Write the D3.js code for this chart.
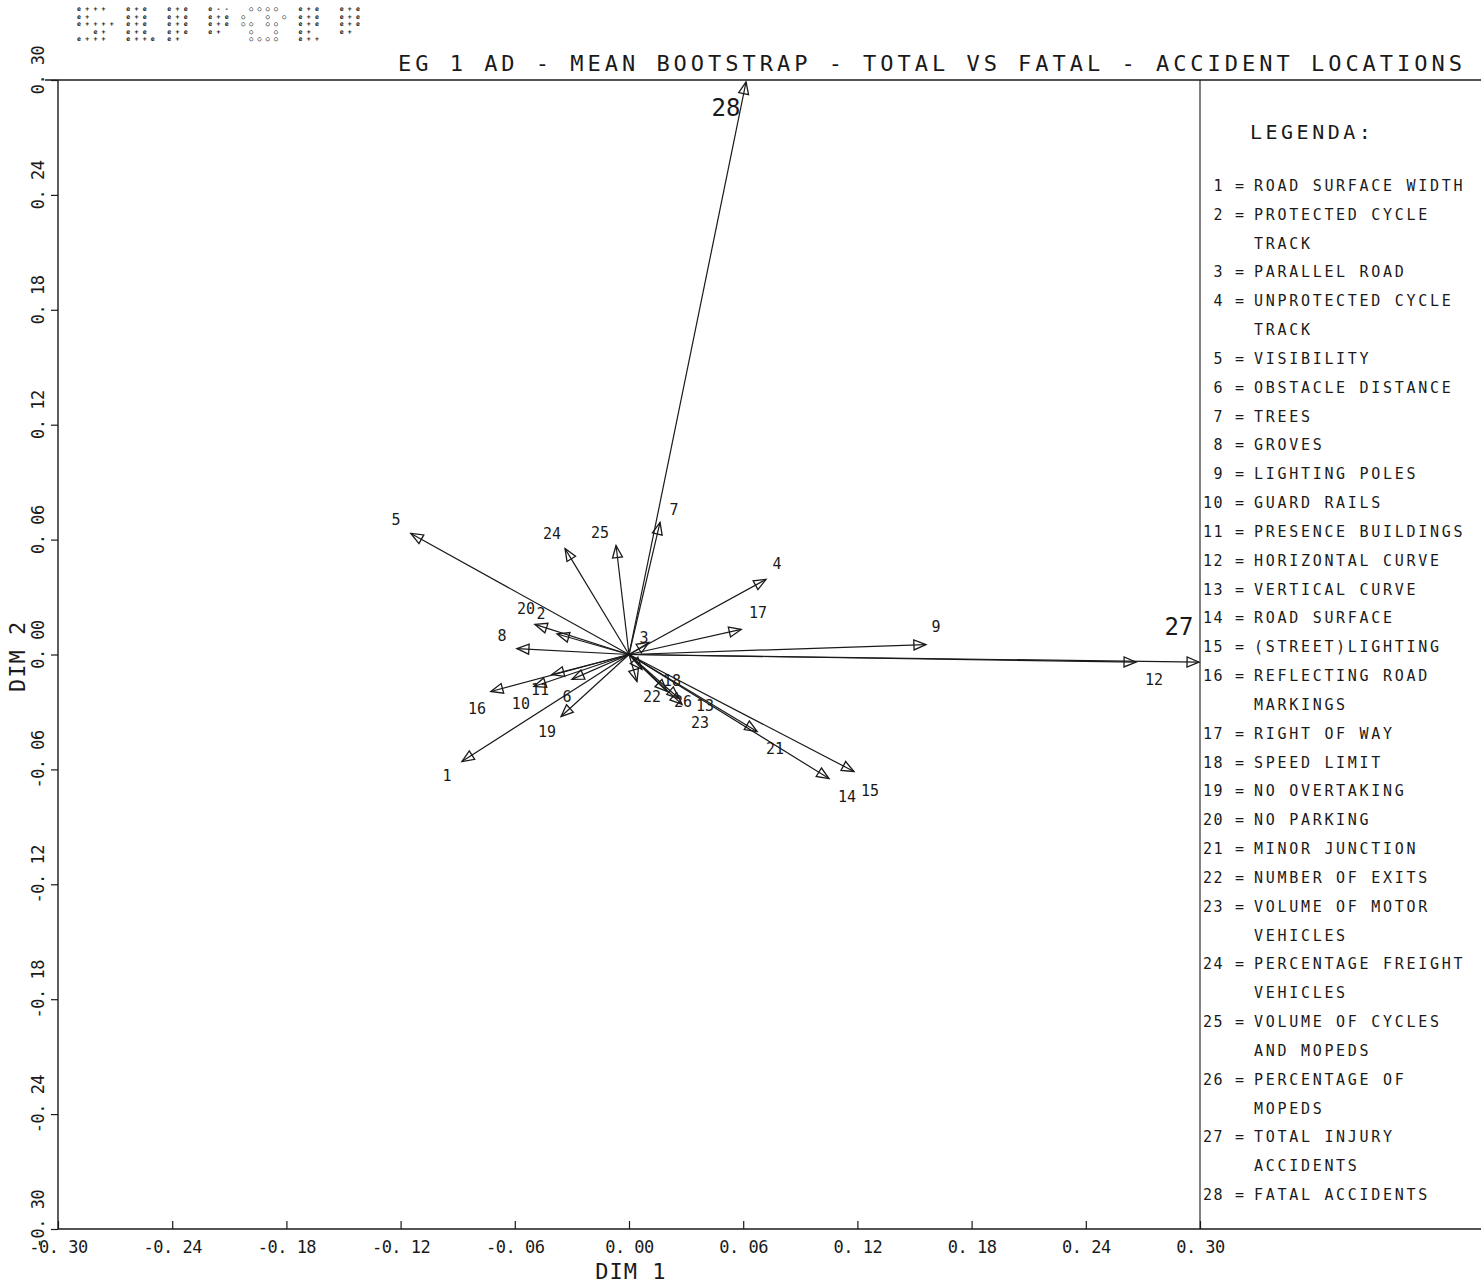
<!DOCTYPE html>
<html>
<head>
<meta charset="utf-8">
<script src="https://cdn.jsdelivr.net/npm/d3@7"></script>
<style>
  html, body { margin: 0; padding: 0; background: #fff; }
  svg { display: block; }
  text { fill: #1a1a1a; font-family: "DejaVu Sans Mono", "Liberation Mono", monospace; }
</style>
</head>
<body>
<svg id="chart" width="1481" height="1285"></svg>
<script>
// ---------------- DATA ----------------
const variableIds = [1,2,3,4,5,6,7,8,9,10,11,12,13,14,15,16,17,18,19,20,21,22,23,24,25,26,27,28];
const dim1 = [-0.0878,-0.0378, 0.0105, 0.0720,-0.1146,-0.0300, 0.0163,-0.0589, 0.1560,-0.0500,
              -0.0405, 0.2664, 0.0263, 0.1051, 0.1182,-0.0726, 0.0589, 0.0068,-0.0357,-0.0494,
               0.0673, 0.0042, 0.0279,-0.0336,-0.0068, 0.0200, 0.2995, 0.0615];
const dim2 = [-0.0559, 0.0107, 0.0063, 0.0392, 0.0632,-0.0130, 0.0690, 0.0031, 0.0052,-0.0167,
              -0.0105,-0.0040,-0.0230,-0.0648,-0.0611,-0.0193, 0.0131,-0.0078,-0.0324, 0.0157,
              -0.0402,-0.0141,-0.0261, 0.0553, 0.0569,-0.0193,-0.0040, 0.2990];
// label anchor positions (data units)
const labelX = [-0.0956,-0.0462, 0.0079, 0.0778,-0.1224,-0.0326, 0.0236,-0.0667, 0.1613,-0.0568,
                -0.0468, 0.2759, 0.0399, 0.1146, 0.1266,-0.0799, 0.0678, 0.0226,-0.0431,-0.0541,
                 0.0767, 0.0121, 0.0373,-0.0405,-0.0152, 0.0284, 0.2890, 0.0510];
const labelY = [-0.0637, 0.0209, 0.0084, 0.0470, 0.0700,-0.0220, 0.0757, 0.0099, 0.0141,-0.0261,
                -0.0185,-0.0131,-0.0269,-0.0742,-0.0715,-0.0287, 0.0219,-0.0138,-0.0407, 0.0240,
                -0.0491,-0.0222,-0.0358, 0.0627, 0.0637,-0.0248, 0.0146, 0.2856];
const labelBig = [27, 28];

const tickValues = [-0.30,-0.24,-0.18,-0.12,-0.06,0.00,0.06,0.12,0.18,0.24,0.30];
const xTickLabels = ["-0. 30","-0. 24","-0. 18","-0. 12","-0. 06","0. 00","0. 06","0. 12","0. 18","0. 24","0. 30"];
const yTickLabels = ["-0. 30","-0. 24","-0. 18","-0. 12","-0. 06","0. 00","0. 06","0. 12","0. 18","0. 24","0. 30"];

const titleText = "EG 1 AD - MEAN BOOTSTRAP - TOTAL VS FATAL - ACCIDENT LOCATIONS";
const xAxisTitle = "DIM 1";
const yAxisTitle = "DIM 2";
const legendTitle = "LEGENDA:";
const legendNums = [1,2,3,4,5,6,7,8,9,10,11,12,13,14,15,16,17,18,19,20,21,22,23,24,25,26,27,28];
const legendTexts = [
  ["ROAD SURFACE WIDTH"], ["PROTECTED CYCLE","TRACK"], ["PARALLEL ROAD"], ["UNPROTECTED CYCLE","TRACK"],
  ["VISIBILITY"], ["OBSTACLE DISTANCE"], ["TREES"], ["GROVES"], ["LIGHTING POLES"], ["GUARD RAILS"],
  ["PRESENCE BUILDINGS"], ["HORIZONTAL CURVE"], ["VERTICAL CURVE"], ["ROAD SURFACE"], ["(STREET)LIGHTING"],
  ["REFLECTING ROAD","MARKINGS"], ["RIGHT OF WAY"], ["SPEED LIMIT"], ["NO OVERTAKING"], ["NO PARKING"],
  ["MINOR JUNCTION"], ["NUMBER OF EXITS"], ["VOLUME OF MOTOR","VEHICLES"], ["PERCENTAGE FREIGHT","VEHICLES"],
  ["VOLUME OF CYCLES","AND MOPEDS"], ["PERCENTAGE OF","MOPEDS"], ["TOTAL INJURY","ACCIDENTS"], ["FATAL ACCIDENTS"]
];
const logoRows = [
  "e+++  e+e  e+e  e--  ○○○○  e+e  e+e",
  "e+    e+e  e+e  e+e ○  ○ ○ e+e  e+e",
  "e++++ e+e  e+e  e+e ○○ ○○  e+e  e+e",
  "  e+  e+e  e+e  e+   ○  ○  e+   e+ ",
  "e+++  e++e e+        ○○○○  e++     "
];

// ---------------- LAYOUT ----------------
const svg = d3.select("#chart");
const ink = "#1a1a1a";
const x = d3.scaleLinear().domain([-0.3, 0.3]).range([58, 1200]);
const y = d3.scaleLinear().domain([-0.3, 0.3]).range([1229, 80]);

// logo glyph block
const logo = svg.append("g");
logo.selectAll("text").data(logoRows).join("text")
  .attr("x", 77).attr("y", (d, i) => 11 + i * 7.6)
  .attr("font-size", 6.5).attr("font-weight", "bold")
  .attr("textLength", 283).attr("lengthAdjust", "spacing")
  .style("white-space", "pre").attr("fill", "#111")
  .text(d => d);

// title
svg.append("text").attr("x", 398).attr("y", 71)
  .attr("font-size", 22).attr("textLength", 1064).attr("lengthAdjust", "spacing")
  .attr("fill", "#2a2a2a")
  .text(titleText);

// frame lines
svg.append("line").attr("x1", 45).attr("x2", 1481).attr("y1", y(0.3)).attr("y2", y(0.3))
  .attr("stroke", ink).attr("stroke-width", 1.6);
svg.append("line").attr("x1", x(-0.3)).attr("x2", 1481).attr("y1", y(-0.3)).attr("y2", y(-0.3))
  .attr("stroke", ink).attr("stroke-width", 1.6);
svg.append("line").attr("x1", x(0.3)).attr("x2", x(0.3)).attr("y1", y(0.3)).attr("y2", y(-0.3))
  .attr("stroke", ink).attr("stroke-width", 1.1);

// bottom axis
const xAxis = d3.axisBottom(x).tickValues(tickValues).tickSize(-8).tickPadding(12)
  .tickFormat((d, i) => xTickLabels[i]);
const gx = svg.append("g").attr("transform", `translate(0,${y(-0.3)})`).call(xAxis);
gx.select(".domain").remove();
gx.selectAll(".tick line").attr("stroke", ink).attr("stroke-width", 1.2);
gx.selectAll(".tick text").attr("font-size", 17).attr("fill", ink)
  .attr("font-family", '"DejaVu Sans Mono", monospace').attr("letter-spacing", -0.5);

// left axis
const yAxis = d3.axisLeft(y).tickValues(tickValues).tickSize(7).tickFormat("");
const gy = svg.append("g").attr("transform", `translate(${x(-0.3)},0)`).call(yAxis);
gy.select(".domain").attr("stroke", ink).attr("stroke-width", 1.4).attr("d", `M0,${y(0.3)}V${y(-0.3)}`);
gy.selectAll(".tick line").attr("stroke", ink).attr("stroke-width", 1.2);
svg.append("g").selectAll("text").data(tickValues).join("text")
  .attr("transform", (d) => `translate(44,${y(d) - 10}) rotate(-90)`)
  .attr("text-anchor", "middle").attr("font-size", 17).attr("letter-spacing", -0.5)
  .style("white-space", "pre")
  .text((d, i) => yTickLabels[i]);

// axis titles
svg.append("text").attr("x", x(0.001)).attr("y", 1279).attr("text-anchor", "middle")
  .attr("font-size", 22).attr("letter-spacing", 1).text(xAxisTitle);
svg.append("text").attr("transform", `translate(25,${y(-0.001)}) rotate(-90)`)
  .attr("text-anchor", "middle").attr("font-size", 22).attr("letter-spacing", 1).text(yAxisTitle);

// arrows
const vectors = variableIds.map((id, i) => ({ id, x: dim1[i], y: dim2[i], lx: labelX[i], ly: labelY[i] }));
const gArrows = svg.append("g");
gArrows.selectAll("line").data(vectors).join("line")
  .attr("x1", x(0)).attr("y1", y(0))
  .attr("x2", d => x(d.x)).attr("y2", d => y(d.y))
  .attr("stroke", ink).attr("stroke-width", 1.2);

function headPath(d) {
  const x0 = x(0), y0 = y(0), x1 = x(d.x), y1 = y(d.y);
  const dx = x1 - x0, dy = y1 - y0, len = Math.hypot(dx, dy) || 1;
  const ux = dx / len, uy = dy / len, nx = -uy, ny = ux;
  const L = 12, W = 5;
  const bx = x1 - ux * L, by = y1 - uy * L;
  return `M${x1},${y1}L${bx + nx * W},${by + ny * W}L${bx - nx * W},${by - ny * W}Z`;
}
gArrows.selectAll("path").data(vectors).join("path")
  .attr("d", headPath).attr("fill", "none").attr("stroke", ink).attr("stroke-width", 1.3);

gArrows.selectAll("text").data(vectors).join("text")
  .attr("x", d => x(d.lx)).attr("y", d => y(d.ly))
  .attr("text-anchor", "middle").attr("dominant-baseline", "central")
  .attr("font-family", '"DejaVu Sans", sans-serif')
  .attr("font-size", d => labelBig.includes(d.id) ? 24 : 15)
  .text(d => d.id);

// legend
svg.append("text").attr("x", 1250).attr("y", 139).attr("font-size", 20)
  .attr("letter-spacing", 3.5).text(legendTitle);
const lineH = 28.83;
let row = 0;
const gLeg = svg.append("g").attr("font-size", 15);
legendNums.forEach((n, i) => {
  const yy = 191 + row * lineH;
  gLeg.append("text").attr("x", 1224).attr("y", yy).attr("text-anchor", "end")
    .attr("letter-spacing", 1.5).text(n);
  gLeg.append("text").attr("x", 1235).attr("y", yy).text("=");
  legendTexts[i].forEach((t, j) => {
    gLeg.append("text").attr("x", 1254).attr("y", 191 + (row + j) * lineH)
      .attr("letter-spacing", 2.7).text(t);
  });
  row += legendTexts[i].length;
});
</script>
</body>
</html>
